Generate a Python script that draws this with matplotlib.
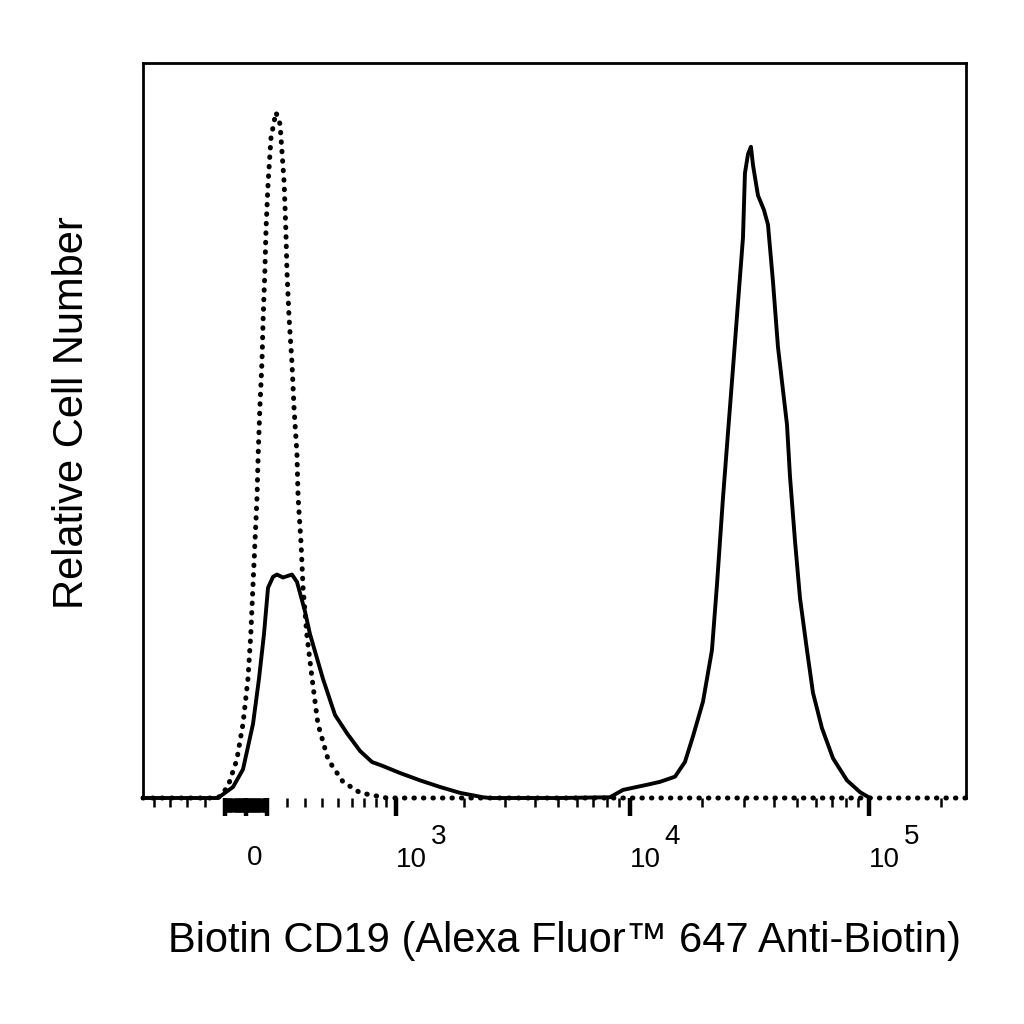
import numpy as np
import matplotlib
matplotlib.use("Agg")
from matplotlib import pyplot as plt

plt.rcParams['font.family'] = ['Liberation Sans', 'DejaVu Sans']

# display channel (0-1000 over the plotted range) vs relative cell number
# dotted = unstained control, solid = Biotin CD19 + Alexa Fluor 647 Anti-Biotin
ctrl_ch = [0, 91, 103, 114, 121.5, 127.5, 131, 133.5, 136, 138.5, 140, 142,
           144.5, 146, 148, 149.5, 152, 155.5, 161.5, 166.5, 171.5, 173.5, 175,
           177.5, 181, 183.5, 187, 188.5, 192, 194.5, 199, 205.5, 212.5, 225,
           243, 264, 296.5, 1000]
ctrl_cnt = [0, 0, 1.5, 5.2, 10.1, 16.2, 22.3, 28.6, 34.7, 40.8, 46.9, 53.1,
            59.2, 65.3, 71.4, 77.5, 83.7, 89.8, 93.3, 91.7, 83.7, 77.5, 71.4,
            65.3, 59.2, 53.1, 46.9, 40.8, 34.7, 28.6, 22.3, 16.2, 10.1, 5.2,
            2.2, 0.7, 0, 0]

cd19_ch = [0, 91, 109.4, 121.5, 133.7, 140.9, 147, 151.9, 158, 162.8, 170.1,
           181, 187.1, 196.8, 202.9, 218.7, 233.3, 247.9, 263.7, 278.2, 290.4,
           312.3, 336.6, 360.9, 385.2, 413.1, 421.6, 506.7, 567.4, 583.2, 612.4,
           628.2, 646.4, 658.5, 668.3, 680.4, 691.3, 697.4, 704.7, 710.8, 716.9,
           722.9, 729, 731.4, 735.1, 738.7, 741.2, 747.2, 754.5, 759.4, 765.5,
           771.5, 777.6, 782.5, 786.1, 792.2, 798.3, 806.8, 814.1, 825, 838.4,
           855.4, 871.2, 883.3]
cd19_cnt = [0, 0, 1.5, 3.9, 10.1, 16.2, 22.3, 28.6, 30.1, 30.4, 30.0,
            30.4, 29.4, 25.4, 22.3, 16.2, 11.3, 8.8, 6.4, 4.9, 4.4,
            3.4, 2.4, 1.5, 0.7, 0.1, 0, 0, 0.1, 1.1, 1.8,
            2.2, 2.9, 4.9, 8.4, 13.1, 20.1, 29.0, 40.8, 49.7, 58.5,
            67.3, 76.2, 85.0, 87.6, 88.6, 86.1, 82.0, 80.0, 78.0, 70.2,
            61.4, 55.5, 50.8, 43.8, 35.0, 27.2, 20.1, 14.3, 9.5, 5.4,
            2.4, 0.8, 0]

# axis ticks (fluorescence values)
major_vals = [-100, 0, 100, 1e3, 1e4, 1e5]
block_vals = [v for v in range(-95, 100, 5) if v != 0]
minor_vals = ([-500, -400, -300, -200] + list(range(200, 1000, 100))
              + list(range(2000, 10000, 1000)) + list(range(20000, 100000, 10000))
              + [200000])
label_decades = [3, 4, 5]


def to_channel(v):
    # biexponential-like display: linear around zero, log for large values
    return 125.1 + 126.4 * np.arcsinh(np.asarray(v, dtype=float) / 500.0)


fig = plt.figure(figsize=(10.24, 10.24), dpi=100)
ax = fig.add_axes([143 / 1024, 1 - 798 / 1024, 823 / 1024, 735 / 1024])

ax.plot(ctrl_ch, ctrl_cnt, color='black', lw=3.6, linestyle=(0, (0.1, 1.8)),
        dash_capstyle='round', clip_on=False)
ax.plot(cd19_ch, cd19_cnt, color='black', lw=2.8, solid_joinstyle='round',
        clip_on=False)

ax.set_xlim(0, 1000)
ax.set_ylim(0, 100)
ax.set_yticks([])

for s in ['left', 'top', 'right']:
    ax.spines[s].set_linewidth(2.0)
ax.spines['bottom'].set_visible(False)

ax.set_xticks(to_channel(major_vals))
ax.set_xticks(to_channel(minor_vals), minor=True)
ax.tick_params(axis='x', which='major', length=13, width=3.2, direction='out',
               labelbottom=False)
ax.tick_params(axis='x', which='minor', length=6.5, width=1.8, direction='out')

# dense ticks around zero form the solid block
sec = ax.secondary_xaxis('bottom')
sec.spines['bottom'].set_visible(False)
sec.set_xticks(to_channel(block_vals))
sec.tick_params(axis='x', length=10, width=2.0, direction='out', labelbottom=False)

# tick labels
ax.annotate('0', xy=(to_channel(0), 0), xycoords=('data', 'axes fraction'),
            xytext=(1, -60), textcoords='offset pixels', ha='left', va='center',
            fontsize=20)
for d in label_decades:
    xc = to_channel(10 ** d)
    ax.annotate('10', xy=(xc, 0), xycoords=('data', 'axes fraction'),
                xytext=(0, -62), textcoords='offset pixels', ha='left',
                va='center', fontsize=20)
    ax.annotate(str(d), xy=(xc, 0), xycoords=('data', 'axes fraction'),
                xytext=(35, -39), textcoords='offset pixels', ha='left',
                va='center', fontsize=20)

fig.text(565 / 1024, 1 - 941 / 1024, 'Biotin CD19 (Alexa Fluor\u2122 647 Anti-Biotin)',
         ha='center', va='center', fontsize=30)
fig.text(72 / 1024, 1 - 413 / 1024, 'Relative Cell Number', rotation=90,
         ha='center', va='center', fontsize=30)

fig.savefig('out.png', dpi=100, facecolor='white')
